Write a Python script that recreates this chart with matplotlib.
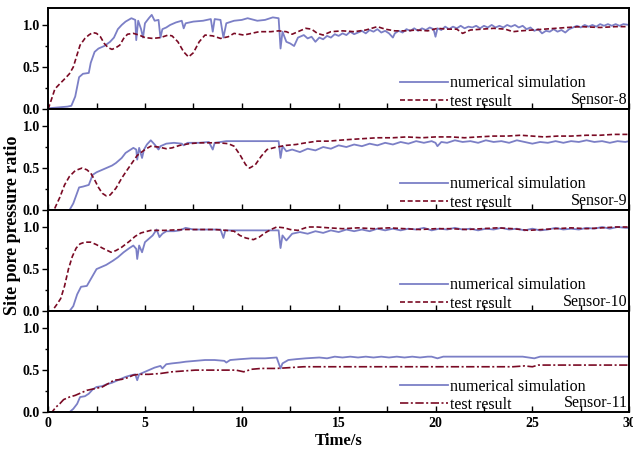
import matplotlib
matplotlib.use("Agg")
import matplotlib.pyplot as plt
from matplotlib.ticker import MultipleLocator, FormatStrFormatter

plt.rcParams['font.family'] = ['Liberation Serif', 'DejaVu Serif']

# Sensor-8
t8_sim = [0, 0.5, 1.0, 1.2, 1.4, 1.6, 1.8, 2.1, 2.2, 2.4, 2.6, 2.9, 3.2, 3.4, 3.6, 3.8, 4.0, 4.3, 4.5, 4.55,
          4.65, 4.8, 4.9, 5.0, 5.2, 5.35, 5.5, 5.7, 5.8, 5.9, 6.1, 6.3, 6.6, 6.9, 7.0, 7.1, 7.5, 8.0, 8.4, 8.5,
          8.6, 8.9, 9.05, 9.2, 9.6, 10.0, 10.3, 10.8, 11.2, 11.6, 11.9, 12.0, 12.1, 12.3, 12.5, 12.7, 12.9,
          13.2, 13.4, 13.6, 13.8, 14.0, 14.2, 14.4, 14.6, 14.8, 15.0, 15.2, 15.4, 15.6, 15.8, 16.0, 16.2, 16.4,
          16.6, 16.8, 17.0, 17.2, 17.4, 17.6, 17.8, 17.9, 18.1, 18.3, 18.5, 18.7, 18.9, 19.1, 19.3, 19.5, 19.7,
          19.9, 20.0, 20.1, 20.3, 20.5, 20.7, 20.9, 21.1, 21.3, 21.5, 21.7, 21.9, 22.1, 22.3, 22.5, 22.7, 22.9,
          23.1, 23.3, 23.5, 23.7, 23.9, 24.1, 24.3, 24.5, 24.7, 24.9, 25.1, 25.3, 25.5, 25.7, 25.9, 26.1, 26.3,
          26.5, 26.7, 26.9, 27.1, 27.3, 27.5, 27.7, 27.9, 28.1, 28.3, 28.5, 28.7, 28.9, 29.1, 29.3, 29.5, 29.7, 30]
p8_sim = [0.01, 0.02, 0.03, 0.04, 0.15, 0.38, 0.42, 0.43, 0.55, 0.68, 0.72, 0.75, 0.8, 0.85, 0.95, 1.0, 1.04, 1.08, 1.06, 0.82,
          1.05, 0.95, 0.85, 1.02, 1.08, 1.12, 1.05, 1.06, 0.85, 0.95, 0.97, 1.0, 1.03, 1.05, 0.96, 1.02, 1.04, 1.05, 1.07, 0.92,
          1.07, 1.06, 0.85, 1.02, 1.05, 1.06, 1.08, 1.05, 1.06, 1.09, 1.08, 0.72, 0.92, 0.8, 0.78, 0.75, 0.85,
          0.88, 0.84, 0.86, 0.8, 0.85, 0.83, 0.87, 0.85, 0.89, 0.87, 0.9, 0.88, 0.92, 0.89, 0.91, 0.93, 0.9,
          0.94, 0.92, 0.95, 0.91, 0.93, 0.9, 0.85, 0.9, 0.93, 0.91, 0.95, 0.93, 0.96, 0.93, 0.96, 0.94, 0.97,
          0.95, 0.86, 0.96, 0.94, 0.98, 0.95, 0.98, 0.96, 0.99, 0.96, 0.98, 0.97, 0.99, 0.96, 0.99, 0.97, 1.0,
          0.97, 0.99, 0.97, 1.0, 0.98, 1.0, 0.97, 0.99, 0.95, 0.97, 0.93, 0.95, 0.9, 0.93, 0.92, 0.95, 0.92,
          0.94, 0.91, 0.95, 0.97, 0.99, 0.97, 1.0, 0.98, 1.0, 0.98, 1.01, 0.99, 1.01, 0.99, 1.01, 0.99, 1.01, 1.0]
t8_test = [0, 0.15, 0.35, 0.6, 0.9, 1.1, 1.3, 1.5, 1.65, 1.9, 2.1, 2.3, 2.5, 2.7, 2.9, 3.1, 3.3, 3.5, 3.7, 3.9,
           4.1, 4.4, 4.7, 5.0, 5.4, 5.8, 6.2, 6.4, 6.7, 7.0, 7.25, 7.5, 7.8, 8.1, 8.5, 8.9, 9.3, 9.6, 10.1, 10.5,
           10.9, 11.5, 11.9, 12.3, 12.6, 13.0, 13.3, 13.6, 13.9, 14.2, 14.6, 15.2, 15.8, 16.4, 17.0, 17.4, 17.9,
           18.5, 19.0, 19.6, 20.1, 20.6, 21.1, 21.4, 21.8, 22.4, 23.0, 23.6, 24.0, 24.4, 25.0, 25.6, 26.2, 26.8,
           27.5, 28.5, 29.3, 30]
p8_test = [0.0, 0.1, 0.24, 0.3, 0.37, 0.42, 0.5, 0.65, 0.76, 0.84, 0.88, 0.91, 0.9, 0.86, 0.78, 0.73, 0.71, 0.73, 0.76, 0.84,
           0.89, 0.9, 0.88, 0.85, 0.84, 0.85, 0.88, 0.87, 0.8, 0.68, 0.62, 0.67, 0.8, 0.88, 0.87, 0.84, 0.86, 0.9, 0.88, 0.9,
           0.92, 0.92, 0.93, 0.92, 0.89, 0.93, 0.96, 0.95, 0.9, 0.88, 0.92, 0.93, 0.92, 0.94, 0.98, 0.95, 0.93,
           0.93, 0.94, 0.93, 0.96, 0.95, 0.95, 0.9, 0.94, 0.95, 0.96, 0.95, 0.92, 0.93, 0.94, 0.95, 0.96, 0.97,
           0.98, 0.97, 0.98, 0.98]

# Sensor-9
t9_sim = [0, 1.1, 1.3, 1.6, 1.8, 2.1, 2.3, 2.5, 2.8, 3.0, 3.3, 3.5, 3.8, 4.0, 4.2, 4.4, 4.55, 4.6, 4.7, 4.85,
          4.95, 5.1, 5.3, 5.5, 5.7, 5.8, 6.1, 6.5, 6.9, 7.0, 7.2, 7.8, 8.3, 8.5, 8.6, 9.2, 10.0, 10.8, 11.5, 11.9,
          12.0, 12.1, 12.3, 12.6, 13.0, 13.4, 13.8, 14.2, 14.6, 15.0, 15.4, 15.8, 16.2, 16.6, 17.0, 17.4, 17.8,
          18.2, 18.6, 19.0, 19.4, 19.8, 20.0, 20.1, 20.3, 20.6, 21.0, 21.4, 21.8, 22.2, 22.6, 23.0, 23.4, 23.8,
          24.2, 24.6, 25.0, 25.4, 25.8, 26.2, 26.6, 27.0, 27.4, 27.8, 28.2, 28.6, 29.0, 29.4, 29.8, 30]
p9_sim = [0, 0.0, 0.08, 0.27, 0.28, 0.3, 0.42, 0.45, 0.48, 0.5, 0.53, 0.56, 0.62, 0.68, 0.71, 0.74, 0.72, 0.6, 0.74, 0.62,
          0.72, 0.78, 0.83, 0.78, 0.72, 0.76, 0.79, 0.8, 0.79, 0.77, 0.8, 0.8, 0.81, 0.72, 0.8, 0.82, 0.82, 0.82, 0.82, 0.82,
          0.62, 0.76, 0.7, 0.72, 0.69, 0.73, 0.71, 0.75, 0.73, 0.77, 0.75, 0.78, 0.76, 0.79, 0.77, 0.8, 0.78,
          0.81, 0.79, 0.82, 0.8, 0.82, 0.8, 0.76, 0.81, 0.8, 0.83, 0.81, 0.82, 0.8, 0.83, 0.81, 0.82, 0.8,
          0.83, 0.81, 0.79, 0.81, 0.8, 0.82, 0.8, 0.82, 0.81, 0.83, 0.81, 0.82, 0.8, 0.82, 0.81, 0.82]
t9_test = [0, 0.3, 0.6, 0.85, 1.1, 1.4, 1.75, 2.0, 2.2, 2.4, 2.6, 2.8, 3.0, 3.2, 3.5, 3.8, 4.0, 4.3, 4.6, 5.0,
           5.3, 5.7, 6.1, 6.4, 6.8, 7.3, 7.8, 8.3, 8.8, 9.3, 9.6, 9.9, 10.2, 10.4, 10.7, 11.0, 11.3, 11.8, 12.3,
           12.8, 13.3, 13.9, 14.5, 15.0, 15.6, 16.3, 17.0, 17.8, 18.5, 19.3, 20.0, 20.8, 21.5, 22.2, 23.0, 23.7,
           24.4, 25.0, 25.6, 26.3, 27.0, 27.8, 28.5, 29.2, 30]
p9_test = [0, 0.0, 0.15, 0.3, 0.4, 0.47, 0.5, 0.48, 0.44, 0.36, 0.27, 0.2, 0.17, 0.18, 0.26, 0.38, 0.45, 0.55, 0.65, 0.72,
           0.76, 0.75, 0.73, 0.74, 0.77, 0.79, 0.8, 0.8, 0.8, 0.79, 0.76, 0.66, 0.54, 0.5, 0.54, 0.64, 0.72, 0.75, 0.77,
           0.78, 0.8, 0.82, 0.82, 0.83, 0.84, 0.85, 0.86, 0.86, 0.87, 0.86, 0.87, 0.87, 0.86, 0.87, 0.88, 0.88,
           0.89, 0.88, 0.87, 0.88, 0.88, 0.89, 0.89, 0.9, 0.9]

# Sensor-10
t10_sim = [0, 1.1, 1.3, 1.5, 1.7, 2.0, 2.2, 2.5, 2.8, 3.0, 3.35, 3.6, 3.9, 4.2, 4.4, 4.55, 4.6, 4.7, 4.85, 5.0,
           5.2, 5.4, 5.6, 5.75, 5.9, 6.1, 6.5, 6.8, 7.1, 7.5, 8.0, 8.5, 8.9, 9.05, 9.15, 9.8, 10.5, 11.2, 11.9,
           12.0, 12.1, 12.3, 12.6, 13.0, 13.4, 13.8, 14.2, 14.6, 15.0, 15.4, 15.8, 16.2, 16.6, 17.0, 17.4, 17.8,
           18.2, 18.6, 19.0, 19.4, 19.8, 20.2, 20.6, 21.0, 21.4, 21.8, 22.2, 22.6, 23.0, 23.4, 23.8, 24.2, 24.6,
           25.0, 25.4, 25.8, 26.2, 26.6, 27.0, 27.4, 27.8, 28.2, 28.6, 29.0, 29.4, 29.8, 30]
p10_sim = [0, 0.0, 0.06, 0.2, 0.29, 0.3, 0.38, 0.5, 0.53, 0.55, 0.6, 0.64, 0.7, 0.75, 0.78, 0.74, 0.62, 0.78, 0.7, 0.82,
           0.86, 0.9, 0.97, 0.88, 0.92, 0.95, 0.95, 0.96, 0.99, 0.97, 0.97, 0.97, 0.97, 0.87, 0.96, 0.96, 0.96, 0.96, 0.96,
           0.75, 0.9, 0.84, 0.92, 0.94, 0.92, 0.95, 0.93, 0.96, 0.94, 0.97, 0.95, 0.97, 0.95, 0.98, 0.96, 0.98,
           0.96, 0.98, 0.97, 0.99, 0.96, 0.98, 0.97, 0.99, 0.97, 0.98, 0.96, 0.98, 0.97, 0.99, 0.97, 0.98, 0.96,
           0.98, 0.96, 0.97, 0.99, 0.97, 0.98, 0.97, 0.99, 0.98, 1.0, 0.98, 1.0, 0.99, 0.99]
t10_test = [0, 0.2, 0.45, 0.65, 0.85, 1.05, 1.25, 1.45, 1.65, 1.9, 2.2, 2.5, 2.8, 3.25, 3.5, 3.8, 4.2, 4.5, 4.8, 5.3,
            6.0, 7.0, 7.8, 8.6, 9.2, 9.6, 9.9, 10.2, 10.6, 10.9, 11.2, 11.5, 11.8, 12.2, 12.5, 12.9, 13.4, 13.9,
            14.5, 15.2, 16.0, 16.8, 17.6, 18.4, 19.2, 20.0, 20.8, 21.6, 22.4, 23.2, 24.0, 24.8, 25.5, 26.2, 27.0,
            27.8, 28.6, 29.3, 30]
p10_test = [0, 0.0, 0.08, 0.15, 0.3, 0.5, 0.65, 0.75, 0.8, 0.82, 0.82, 0.79, 0.75, 0.7, 0.72, 0.76, 0.83, 0.89, 0.93, 0.96,
            0.96, 0.97, 0.97, 0.97, 0.96, 0.95, 0.9, 0.87, 0.85, 0.88, 0.93, 0.97, 1.0, 0.99, 0.97, 0.96, 1.0, 1.0,
            0.99, 0.98, 0.99, 0.98, 0.99, 0.98, 0.97, 0.98, 0.98, 0.97, 0.98, 0.99, 0.98, 0.96, 0.97, 0.98, 0.99,
            0.98, 0.99, 1.0, 1.0]

# Sensor-11
t11_sim = [0, 1.1, 1.3, 1.5, 1.65, 1.9, 2.1, 2.3, 2.5, 2.8, 3.0, 3.3, 3.6, 3.8, 4.0, 4.3, 4.5, 4.6, 4.7, 4.9,
           5.2, 5.5, 5.8, 5.9, 6.1, 6.4, 6.8, 7.1, 7.6, 8.1, 8.6, 9.1, 9.2, 9.4, 9.9, 10.5, 11.2, 11.8, 12.0,
           12.1, 12.4, 12.8, 13.3, 14.0, 14.4, 14.8, 15.2, 15.6, 16.0, 16.4, 16.8, 17.2, 17.6, 18.0, 18.4, 18.8,
           19.2, 19.6, 19.8, 20.1, 20.4, 21.5, 23.0, 24.5, 25.1, 25.4, 27.0, 28.5, 30]
p11_sim = [0, 0.0, 0.04, 0.1, 0.18, 0.19, 0.22, 0.27, 0.3, 0.31, 0.33, 0.35, 0.38, 0.4, 0.42, 0.44, 0.45, 0.38, 0.45, 0.47,
           0.5, 0.53, 0.55, 0.52, 0.57, 0.58, 0.59, 0.6, 0.61, 0.62, 0.62, 0.61, 0.59, 0.62, 0.63, 0.64, 0.64, 0.65, 0.52,
           0.58, 0.62, 0.63, 0.64, 0.65, 0.64, 0.66, 0.65, 0.66, 0.65, 0.66, 0.65, 0.66, 0.65, 0.66, 0.65, 0.66,
           0.65, 0.66, 0.66, 0.64, 0.66, 0.66, 0.66, 0.66, 0.64, 0.66, 0.66, 0.66, 0.66]
t11_test = [0, 0.2, 0.4, 0.6, 0.8, 1.1, 1.4, 1.7, 2.0, 2.4, 2.8, 3.1, 3.4, 3.8, 4.1, 4.4, 4.7, 5.2, 5.8, 6.4,
            7.0, 7.6, 8.4, 9.2, 9.7, 10.1, 10.5, 11.0, 11.8, 12.5, 13.2, 14.0, 15.0, 16.0, 17.0, 18.0, 19.0, 20.0,
            21.0, 22.0, 23.0, 24.0, 24.6, 25.0, 25.3, 26.0, 27.0, 28.0, 29.0, 30]
p11_test = [0, 0.0, 0.06, 0.1, 0.15, 0.18, 0.2, 0.23, 0.26, 0.28, 0.3, 0.34, 0.38, 0.39, 0.41, 0.44, 0.45, 0.45, 0.46, 0.48,
            0.49, 0.5, 0.5, 0.5, 0.5, 0.48, 0.51, 0.52, 0.52, 0.53, 0.54, 0.54, 0.54, 0.54, 0.54, 0.54, 0.54, 0.54,
            0.54, 0.54, 0.54, 0.54, 0.55, 0.54, 0.56, 0.56, 0.56, 0.56, 0.56, 0.56]

sensors = ['Sensor-8', 'Sensor-9', 'Sensor-10', 'Sensor-11']
sim_t = [t8_sim, t9_sim, t10_sim, t11_sim]
sim_p = [p8_sim, p9_sim, p10_sim, p11_sim]
test_t = [t8_test, t9_test, t10_test, t11_test]
test_p = [p8_test, p9_test, p10_test, p11_test]

sim_color = '#7b7fc6'
test_color = '#7a0a24'

fig, axes = plt.subplots(4, 1, figsize=(6.33, 4.51), dpi=100, sharex=True)
fig.subplots_adjust(left=0.076, right=0.994, top=0.982, bottom=0.086, hspace=0)

for i, ax in enumerate(axes):
    ax.plot(sim_t[i], sim_p[i], color=sim_color, lw=1.3, label='numerical simulation')
    if i == 3:
        dash = (5, 1.5, 1.2, 1.5)
    else:
        dash = (3, 1.6)
    ax.plot(test_t[i], test_p[i], color=test_color, lw=1.2, dashes=dash, label='test result')

    ax.set_xlim(0, 30)
    ax.set_ylim(0, 1.2)
    ax.yaxis.set_major_locator(MultipleLocator(0.5))
    ax.yaxis.set_minor_locator(MultipleLocator(0.25))
    ax.yaxis.set_major_formatter(FormatStrFormatter('%.1f'))
    ax.xaxis.set_major_locator(MultipleLocator(5))
    ax.xaxis.set_minor_locator(MultipleLocator(2.5))
    ax.tick_params(axis='x', which='both', direction='in', length=4, width=1)
    ax.tick_params(axis='y', which='major', direction='out', length=4, width=1, pad=2)
    ax.tick_params(axis='y', which='minor', direction='out', length=2.5, width=1)
    for lab in ax.get_xticklabels() + ax.get_yticklabels():
        lab.set_fontweight('bold')
        lab.set_fontsize(10)
    for s in ax.spines.values():
        s.set_linewidth(1.4)

    ax.legend(loc='lower left', bbox_to_anchor=(0.595, -0.07), frameon=False,
              fontsize=11.5, handlelength=3.0, handletextpad=0.1, labelspacing=0.15,
              borderaxespad=0)
    ax.text(0.997, 0.01, sensors[i], transform=ax.transAxes, ha='right', va='bottom', fontsize=11.5)

axes[-1].set_xlabel('Time/s', fontsize=12, fontweight='bold', labelpad=2)
fig.text(0.02, 0.5, 'Site pore pressure ratio', rotation=90, ha='center', va='center',
         fontsize=13, fontweight='bold')

plt.savefig('out.png', dpi=100)
